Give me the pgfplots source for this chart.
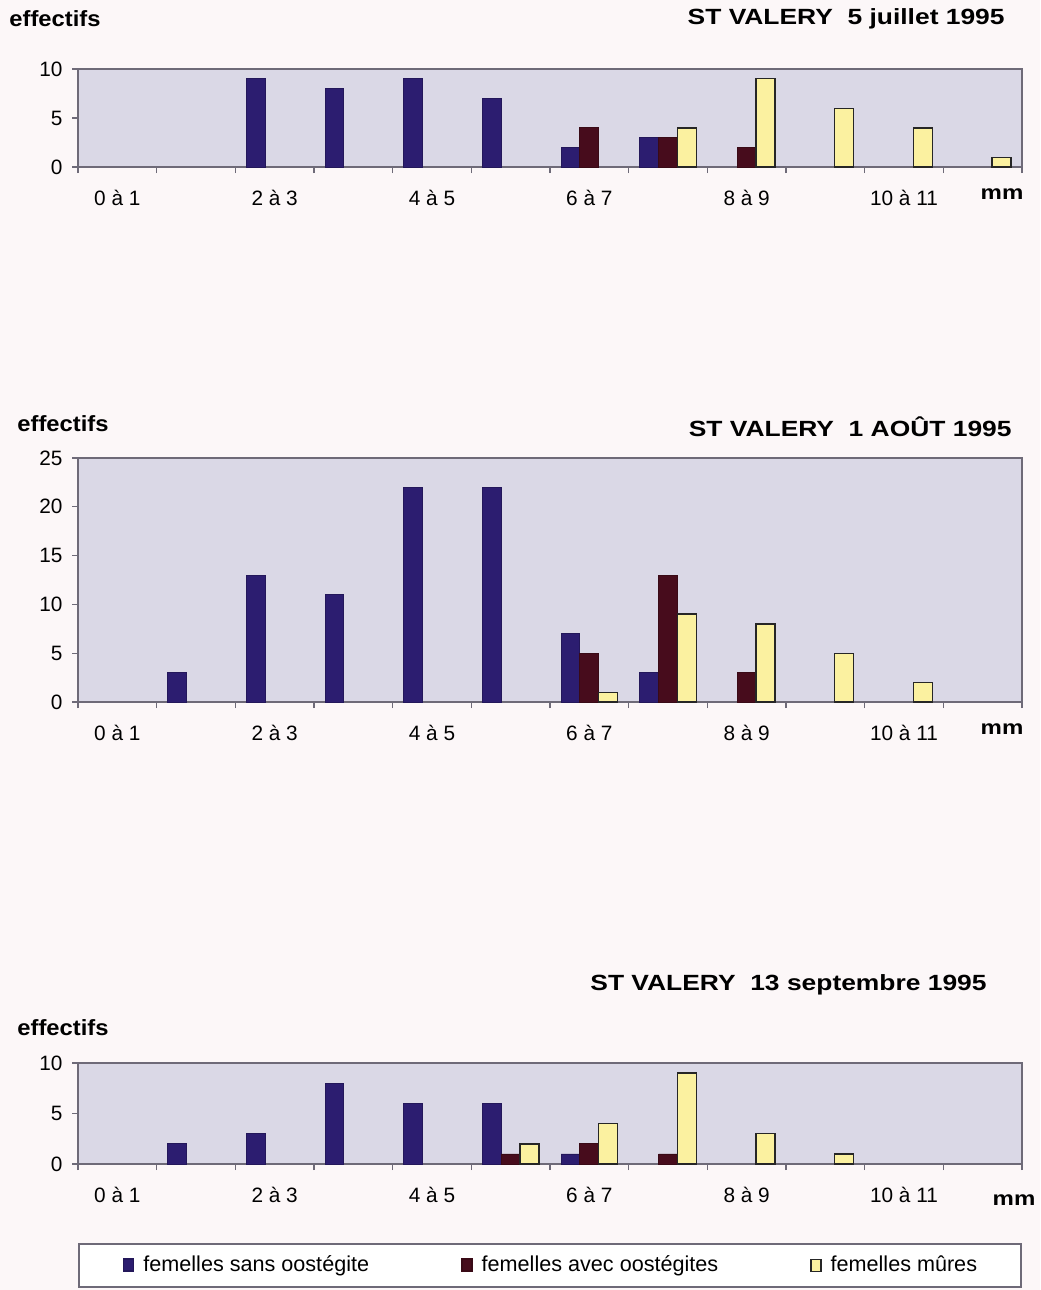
\documentclass[border=0pt]{standalone}
\usepackage{fontspec}
\setmainfont{Liberation Sans}
\newfontfamily\titlefont[FakeStretch=1.2]{Liberation Sans}
\newfontfamily\efffont[FakeStretch=1.08]{Liberation Sans}
\usepackage{pgfplots}
\pgfplotsset{compat=1.18}

\definecolor{pagebg}{HTML}{FCF7F8}
\definecolor{plotbg}{HTML}{DAD8E6}
\definecolor{sansC}{HTML}{2C1D70}
\definecolor{avecC}{HTML}{470C1C}
\definecolor{mureC}{HTML}{FBF1A0}
\definecolor{axC}{HTML}{6E6A78}

\pgfplotsset{
  panel/.style={
    scale only axis, width=472pt,
    xmin=-0.5, xmax=11.5, ymin=0,
    axis background/.style={fill=plotbg},
    axis line style={draw=axC, line width=0.7pt},
    tick align=outside, major tick length=3pt,
    tick pos=left,
    tick style={draw=axC, line width=0.6pt},
    xtick={-0.5,0.5,...,11.5}, xticklabels={},
    extra x ticks={0,2,4,6,8,10},
    extra x tick labels={0 à 1,2 à 3,4 à 5,6 à 7,8 à 9,10 à 11},
    extra x tick style={major tick length=0pt},
    xticklabel style={yshift=-8pt},
    ticklabel style={font=\fontsize{10.4}{12}\selectfont},
    yticklabel style={xshift=-1.2pt},
    /pgf/number format/assume math mode=true,
    clip=false,
  },
  sqlegend/.style={legend image code/.code={\draw[##1] (0pt,-3pt) rectangle (5pt,3pt);}},
  sans/.style={ybar, bar width=0.24, bar shift=-0.24, fill=sansC, draw=sansC!80!black, sqlegend},
  avec/.style={ybar, bar width=0.24, bar shift=0, fill=avecC, draw=avecC!80!black, sqlegend},
  mure/.style={ybar, bar width=0.24, bar shift=0.24, fill=mureC, draw=black!85, line width=0.7pt, sqlegend},
}

\begin{document}
\begin{tikzpicture}
\fill[pagebg] (0pt,0pt) rectangle (520pt,-645pt);

% ---------- Panel 1 ----------
\begin{axis}[panel, at={(39pt,-83.5pt)}, anchor=south west, height=49pt,
  ymax=10, ytick={0,5,10}]
\addplot[sans] coordinates {(2,9)(3,8)(4,9)(5,7)(6,2)(7,3)};
\addplot[avec] coordinates {(6,4)(7,3)(8,2)};
\addplot[mure] coordinates {(7,4)(8,9)(9,6)(10,4)(11,1)};
\end{axis}
\node[anchor=east, inner sep=0pt, font={\fontsize{11}{13}\selectfont\titlefont\bfseries}] at (502.5pt,-9.5pt) {ST VALERY~~5 juillet 1995};
\node[anchor=west, inner sep=0pt, font={\fontsize{11}{13}\selectfont\efffont\bfseries}] at (4.5pt,-9.5pt) {effectifs};
\node[inner sep=0pt, font={\fontsize{10}{12}\selectfont\titlefont\bfseries}] at (501pt,-97pt) {mm};

% ---------- Panel 2 ----------
\begin{axis}[panel, at={(39pt,-351pt)}, anchor=south west, height=122pt,
  ymax=25, ytick={0,5,...,25}]
\addplot[sans] coordinates {(1,3)(2,13)(3,11)(4,22)(5,22)(6,7)(7,3)};
\addplot[avec] coordinates {(6,5)(7,13)(8,3)};
\addplot[mure] coordinates {(6,1)(7,9)(8,8)(9,5)(10,2)};
\end{axis}
\node[anchor=east, inner sep=0pt, font={\fontsize{11}{13}\selectfont\titlefont\bfseries}] at (506pt,-213.5pt) {ST VALERY~~1 AOÛT 1995};
\node[anchor=west, inner sep=0pt, font={\fontsize{11}{13}\selectfont\efffont\bfseries}] at (8.5pt,-212pt) {effectifs};
\node[inner sep=0pt, font={\fontsize{10}{12}\selectfont\titlefont\bfseries}] at (501pt,-364.5pt) {mm};

% ---------- Panel 3 ----------
\begin{axis}[panel, at={(39pt,-582pt)}, anchor=south west, height=50.5pt,
  ymax=10, ytick={0,5,10},
  legend style={at={(0,-0.782)}, anchor=north west, legend columns=3,
    draw=axC, line width=0.8pt, fill=white,
    inner xsep=22pt, inner ysep=6pt,
    nodes={inner sep=0pt, font=\fontsize{10.8}{13}\selectfont},
    cells={anchor=west},
    /tikz/every odd column/.append style={column sep=4.5pt},
    /tikz/every even column/.append style={column sep=46pt}}]
\addplot[sans] coordinates {(1,2)(2,3)(3,8)(4,6)(5,6)(6,1)};
\addlegendentry{femelles sans oostégite}
\addplot[avec] coordinates {(5,1)(6,2)(7,1)};
\addlegendentry{femelles avec oostégites}
\addplot[mure] coordinates {(5,2)(6,4)(7,9)(8,3)(9,1)};
\addlegendentry{femelles mûres}
\end{axis}
\node[anchor=east, inner sep=0pt, font={\fontsize{11}{13}\selectfont\titlefont\bfseries}] at (493.5pt,-492.5pt) {ST VALERY~~13 septembre 1995};
\node[anchor=west, inner sep=0pt, font={\fontsize{11}{13}\selectfont\efffont\bfseries}] at (8.5pt,-514pt) {effectifs};
\node[inner sep=0pt, font={\fontsize{10}{12}\selectfont\titlefont\bfseries}] at (507pt,-600pt) {mm};
\end{tikzpicture}
\end{document}
